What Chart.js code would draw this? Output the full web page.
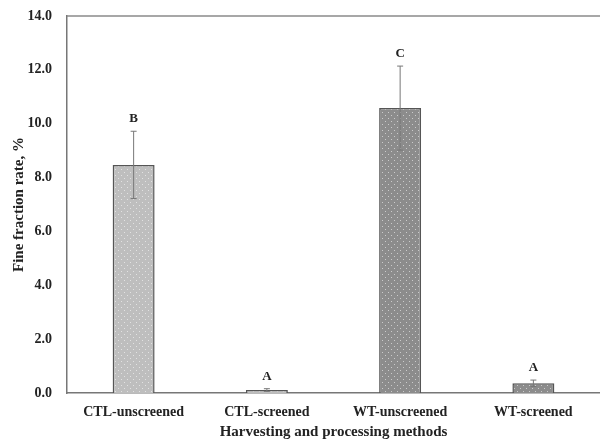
<!DOCTYPE html>
<html>
<head>
    <title>Fine fraction rate</title>
    <script src="https://cdn.jsdelivr.net/npm/chart.js"></script>
    <style>
        body { margin: 0; background: white; }
        .chart-container { width: 600px; height: 441px; }
    </style>
</head>
<body>
    <div class="chart-container">
        <canvas id="fineChart" width="600" height="441"></canvas>
    </div>

    <script>
        // Data
        const categories = ['CTL-unscreened', 'CTL-screened', 'WT-unscreened', 'WT-screened'];
        const means = [8.47, 0.11, 10.58, 0.36];
        const errors = [1.25, 0.05, 1.56, 0.12];
        const letters = ['B', 'A', 'C', 'A'];
        const baseColors = ['#bebebe', '#bebebe', '#8c8c8c', '#8c8c8c'];

        // Dotted fill like the original
        function makePattern(base) {
            const c = document.createElement('canvas');
            c.width = 6; c.height = 6;
            const g = c.getContext('2d');
            g.fillStyle = base;
            g.fillRect(0, 0, 6, 6);
            g.fillStyle = 'rgba(255,255,255,0.55)';
            g.fillRect(1, 1, 1, 1);
            g.fillRect(4, 4, 1, 1);
            return g.createPattern(c, 'repeat');
        }

        // Error bars + significance letters + top frame line
        const extrasPlugin = {
            id: 'extras',
            afterDatasetsDraw(chart) {
                const ctx = chart.ctx;
                const x = chart.scales.x;
                const y = chart.scales.y;
                const area = chart.chartArea;
                ctx.save();
                // top border
                ctx.strokeStyle = '#8a8a8a';
                ctx.lineWidth = 1.5;
                ctx.beginPath();
                ctx.moveTo(area.left, area.top);
                ctx.lineTo(area.right, area.top);
                ctx.stroke();

                ctx.strokeStyle = '#777';
                ctx.lineWidth = 1;
                ctx.font = 'bold 13px "Liberation Serif", "Times New Roman", serif';
                ctx.fillStyle = '#222';
                ctx.textAlign = 'center';
                ctx.textBaseline = 'bottom';
                means.forEach((m, i) => {
                    const cx = x.getPixelForValue(i);
                    const yTop = y.getPixelForValue(m + errors[i]);
                    const yBot = y.getPixelForValue(m - errors[i]);
                    ctx.beginPath();
                    ctx.moveTo(cx, yTop);
                    ctx.lineTo(cx, yBot);
                    ctx.moveTo(cx - 3, yTop);
                    ctx.lineTo(cx + 3, yTop);
                    ctx.moveTo(cx - 3, yBot);
                    ctx.lineTo(cx + 3, yBot);
                    ctx.stroke();
                    ctx.fillText(letters[i], cx, yTop - 6);
                });
                ctx.restore();
            }
        };

        const serif = '"Liberation Serif", "Times New Roman", serif';
        const ctx = document.getElementById('fineChart').getContext('2d');
        const chart = new Chart(ctx, {
            type: 'bar',
            data: {
                labels: categories,
                datasets: [{
                    data: means,
                    backgroundColor: baseColors.map(makePattern),
                    borderColor: '#555',
                    borderWidth: 1.5,
                    categoryPercentage: 1.0,
                    barPercentage: 0.315
                }]
            },
            options: {
                responsive: false,
                animation: false,
                layout: { padding: { top: 16, right: 0, left: 0, bottom: 0 } },
                plugins: {
                    legend: { display: false },
                    tooltip: { enabled: false }
                },
                scales: {
                    x: {
                        grid: { display: false, drawTicks: false },
                        border: { display: true, color: '#777', width: 1.5 },
                        ticks: {
                            color: '#222',
                            padding: 11,
                            font: { family: serif, size: 14, weight: 'bold' }
                        },
                        title: {
                            display: true,
                            text: 'Harvesting and processing methods',
                            color: '#222',
                            padding: { top: 2, bottom: 0 },
                            font: { family: serif, size: 15, weight: 'bold' }
                        },
                        afterFit: s => { s.height = 48; }
                    },
                    y: {
                        min: 0,
                        max: 14,
                        grid: { display: false, drawTicks: false },
                        border: { display: true, color: '#777', width: 1.5 },
                        ticks: {
                            stepSize: 2,
                            color: '#222',
                            padding: 15,
                            font: { family: serif, size: 14, weight: 'bold' },
                            callback: v => v.toFixed(1)
                        },
                        title: {
                            display: true,
                            text: 'Fine fraction rate, %',
                            color: '#222',
                            padding: { top: 10, bottom: 4 },
                            font: { family: serif, size: 15, weight: 'bold' }
                        },
                        afterFit: s => { s.width = 67; s.paddingTop = 0; s.paddingBottom = 0; }
                    }
                }
            },
            plugins: [extrasPlugin]
        });
    </script>
</body>
</html>
